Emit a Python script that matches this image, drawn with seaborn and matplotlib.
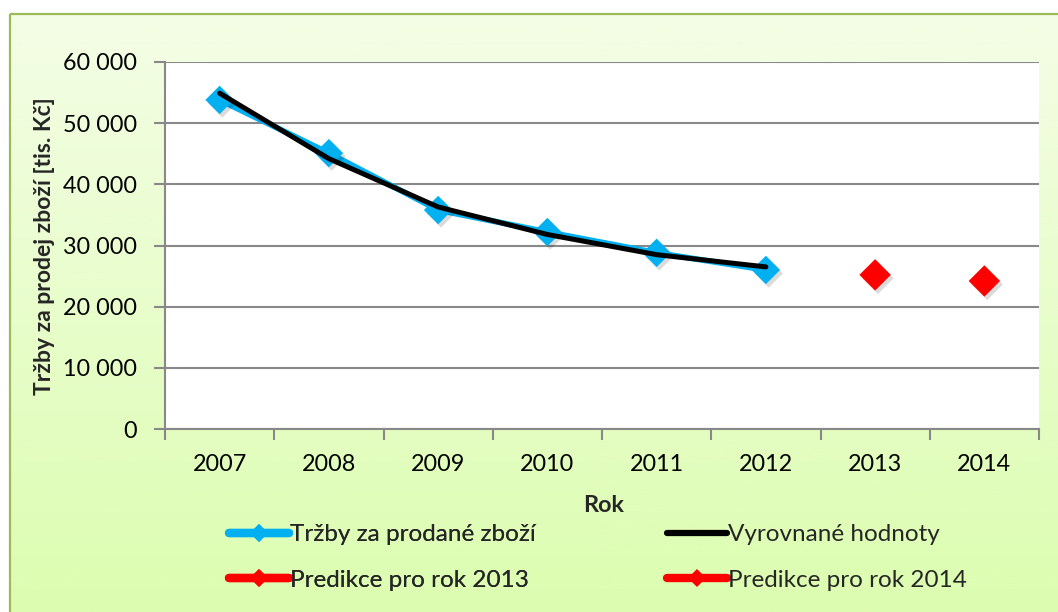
import numpy as np
import pandas as pd
import matplotlib
matplotlib.use("Agg")
import matplotlib.pyplot as plt
import seaborn as sns
from matplotlib import patheffects as pe
from matplotlib.lines import Line2D
from matplotlib.ticker import FuncFormatter, FixedLocator

# --- data -------------------------------------------------------------
years = [2007, 2008, 2009, 2010, 2011, 2012, 2013, 2014]
hist_years = [2007, 2008, 2009, 2010, 2011, 2012]
trzby = [53800, 45100, 35800, 32200, 28800, 26000]        # Tržby za prodané zboží
vyrovnane = [54900, 44200, 36300, 31800, 28500, 26500]    # Vyrovnané hodnoty
pred_years = [2013, 2014]
pred_2013 = [25200]
pred_2014 = [24200]
y_ticks = [0, 10000, 20000, 30000, 40000, 50000, 60000]

lbl_trzby = "Tržby za prodané zboží"
lbl_vyr = "Vyrovnané hodnoty"
lbl_p13 = "Predikce pro rok 2013"
lbl_p14 = "Predikce pro rok 2014"

BLUE = "#00B0F0"
RED = "#FF0000"
GRID = "#888888"
FS = 16.8

sns.set_theme(style="white")
plt.rcParams["font.family"] = ["Lato", "DejaVu Sans"]

W, H = 1058, 612
fig = plt.figure(figsize=(W / 100, H / 100), dpi=100)
fig.patch.set_facecolor("white")

# gradient chart-area background with a green frame
bg = fig.add_axes([0, 0, 1, 1], zorder=-10)
bg.set_xlim(0, 1)
bg.set_ylim(0, 1)
bg.axis("off")
top_c = np.array([0xF4, 0xFD, 0xE6]) / 255
bot_c = np.array([0xDC, 0xFD, 0xB0]) / 255
t = np.linspace(0, 1, 256)[:, None]
grad = (top_c[None, :] * (1 - t) + bot_c[None, :] * t)[:, None, :]
x0, y1 = 10 / W, 1 - 14 / H
bg.imshow(grad, extent=[x0, 1, 0, y1], aspect="auto", origin="upper")
bg.plot([x0, x0], [0, y1], color="#9BBB59", lw=1.6, solid_capstyle="butt")
bg.plot([x0, 1], [y1, y1], color="#9BBB59", lw=1.6, solid_capstyle="butt")

# plot area
L, R, T, B = 165, 1039, 62, 429
ax = fig.add_axes([L / W, 1 - B / H, (R - L) / W, (B - T) / H])
ax.set_facecolor("white")

shadow = [pe.SimplePatchShadow(offset=(2, -2.5), shadow_rgbFace="black", alpha=0.14),
          pe.Normal()]

# lines
sns.lineplot(x=hist_years, y=trzby, ax=ax, color=BLUE, lw=4.2, zorder=3,
             solid_capstyle="round")
# diamond markers with a soft drop shadow
sns.scatterplot(x=hist_years, y=trzby, ax=ax, color=BLUE, marker="D", s=14.5 ** 2,
                linewidth=0, zorder=3.5, path_effects=shadow)
sns.lineplot(x=hist_years, y=vyrovnane, ax=ax, color="black", lw=3.6, zorder=4,
             solid_capstyle="round")
sns.scatterplot(x=pred_years, y=pred_2013 + pred_2014, ax=ax, color=RED, marker="D",
                s=16 ** 2, linewidth=0, zorder=3.5, path_effects=shadow)

ax.set_xlim(years[0] - 0.5, years[-1] + 0.5)
ax.set_ylim(0, 60000)

ax.set_yticks(y_ticks)
ax.yaxis.set_major_formatter(FuncFormatter(lambda v, p: f"{int(v):,}".replace(",", " ")))
ax.set_xticks(years)
ax.set_xticklabels([str(y) for y in years])
ax.xaxis.set_minor_locator(FixedLocator([y + 0.5 for y in [years[0] - 1] + years]))

ax.tick_params(axis="y", which="major", direction="out", length=8, width=1.5,
               color=GRID, pad=12, labelsize=FS, labelcolor="black", left=True)
ax.tick_params(axis="x", which="major", length=0, pad=18, labelsize=FS, labelcolor="black")
ax.tick_params(axis="x", which="minor", direction="out", length=8, width=1.5,
               color=GRID, bottom=True)

ax.grid(axis="y", color=GRID, lw=1.5)
ax.grid(axis="x", visible=False)
ax.set_axisbelow(True)
for s in ["top", "right"]:
    ax.spines[s].set_visible(False)
for s in ["left", "bottom"]:
    ax.spines[s].set_color(GRID)
    ax.spines[s].set_linewidth(1.5)
    ax.spines[s].set_zorder(2)

ax.set_xlabel("")
ax.set_ylabel("")
fig.text(604 / W, 1 - 505 / H, "Rok", ha="center", va="center",
         fontsize=FS, fontweight="bold")
fig.text(45 / W, 1 - 246 / H, "Tržby za prodej zboží [tis. Kč]", ha="center",
         va="center", rotation=90, fontsize=16.5, fontweight="bold")

# legend: two columns, each its own legend box
def handle(color, lw, marker):
    return Line2D([], [], color=color, lw=lw, marker=marker, markersize=9,
                  markeredgewidth=0, solid_capstyle="round")

leg_kw = dict(loc="upper left", frameon=False, fontsize=17.5, handlelength=2.45,
              handletextpad=0.05, labelspacing=1.01, borderaxespad=0, borderpad=0)
leg1 = fig.legend([handle(BLUE, 6, "D"), handle(RED, 6, "D")], [lbl_trzby, lbl_p13],
                  bbox_to_anchor=(229 / W, 1 - 524 / H), **leg_kw)
fig.add_artist(leg1)
fig.legend([handle("black", 4.5, None), handle(RED, 6, "D")], [lbl_vyr, lbl_p14],
           bbox_to_anchor=(667 / W, 1 - 524 / H), **leg_kw)

fig.savefig("out.png", dpi=100, facecolor=fig.get_facecolor())
